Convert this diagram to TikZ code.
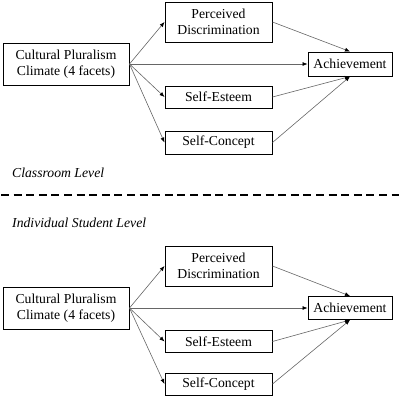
\documentclass[tikz,border=0pt]{standalone}
\usepackage{fontspec}
\setmainfont{Liberation Serif}
\usetikzlibrary{arrows.meta}
\begin{document}
\begin{tikzpicture}[x=1pt,y=-1pt,
  box/.style={draw=black,line width=1pt,align=center,inner sep=0pt,font=\fontsize{13.7}{15.5}\selectfont},
  conn/.style={draw=black!60,line width=0.6pt,-{Latex[length=5pt,width=4pt,black]}},
  lvl/.style={anchor=west,inner sep=0pt,font=\fontsize{13.7}{15.5}\selectfont\itshape}]
\useasboundingbox (0,0) rectangle (400,400);
% top section
\node[box,minimum width=126pt,minimum height=42pt] (cpc1) at (66,64) {Cultural Pluralism\\Climate (4 facets)};
\node[box,minimum width=107pt,minimum height=40pt] (pd1) at (218.5,22) {Perceived\\Discrimination};
\node[box,minimum width=84pt,minimum height=24pt] (ach1) at (350,64) {Achievement};
\node[box,minimum width=107pt,minimum height=22pt] (se1) at (218.5,97) {Self-Esteem};
\node[box,minimum width=107pt,minimum height=23pt] (sc1) at (218.5,142.5) {Self-Concept};
\draw[conn] (cpc1.east) -- (pd1.west);
\draw[conn] (cpc1.east) -- (ach1.west);
\draw[conn] (cpc1.east) -- (se1.west);
\draw[conn] (cpc1.east) -- (sc1.west);
\draw[conn] (pd1.east) -- (ach1.north);
\draw[conn] (se1.east) -- (ach1.south);
\draw[conn] (sc1.east) -- (ach1.south);
\node[lvl] (lv1) at (12,173) {Classroom Level};
% divider
\coordinate (dl) at (1,195);
\coordinate (dr) at (399,195);
\draw[line width=2.5pt,dash pattern=on 8pt off 4.6pt] (dl) -- (dr);
\node[lvl] (lv2) at (12,223) {Individual Student Level};
% bottom section
\node[box,minimum width=126pt,minimum height=42pt] (cpc2) at (66,308) {Cultural Pluralism\\Climate (4 facets)};
\node[box,minimum width=107pt,minimum height=40pt] (pd2) at (218.5,266) {Perceived\\Discrimination};
\node[box,minimum width=84pt,minimum height=23pt] (ach2) at (350,308) {Achievement};
\node[box,minimum width=107pt,minimum height=22pt] (se2) at (218.5,341.5) {Self-Esteem};
\node[box,minimum width=107pt,minimum height=22pt] (sc2) at (218.5,384) {Self-Concept};
\draw[conn] (cpc2.east) -- (pd2.west);
\draw[conn] (cpc2.east) -- (ach2.west);
\draw[conn] (cpc2.east) -- (se2.west);
\draw[conn] (cpc2.east) -- (sc2.west);
\draw[conn] (pd2.east) -- (ach2.north);
\draw[conn] (se2.east) -- (ach2.south);
\draw[conn] (sc2.east) -- (ach2.south);
\end{tikzpicture}
\end{document}
